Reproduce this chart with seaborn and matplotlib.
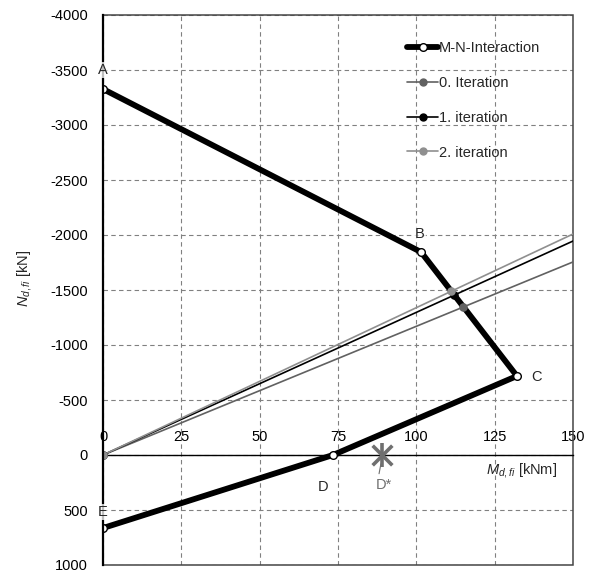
import matplotlib
matplotlib.use("Agg")
import matplotlib.pyplot as plt
from matplotlib.lines import Line2D
from matplotlib.patches import Rectangle
import seaborn as sns

# M-N interaction diagram vertices A..E  (M in kNm, N in kN, compression negative)
point_names = ["A", "B", "C", "D", "E"]
interaction_m = [0.0, 101.5, 132.1, 73.4, 0.0]
interaction_n = [-3327, -1845, -718, 0, 664]

# Iteration load paths: from the origin to the axis limit, with the
# intersection point on the interaction curve
iter_labels = ["0. Iteration", "1. iteration", "2. iteration"]
iter_end_m = [150.0, 150.0, 150.0]
iter_end_n = [-1755, -1945, -2009]
iter_cross_m = [115.0, 112.1, 111.2]
iter_cross_n = [-1346, -1454, -1489]
iter_colors = ["#616161", "#000000", "#8f8f8f"]

# Design point D*
dstar_m = 89.0
dstar_n = 0

x_ticks = [0, 25, 50, 75, 100, 125, 150]
y_ticks = [-4000, -3500, -3000, -2500, -2000, -1500, -1000, -500, 0, 500, 1000]

sns.set_style("white")
plt.rcParams["font.family"] = ["Liberation Sans", "DejaVu Sans"]
plt.rcParams["axes.unicode_minus"] = False
plt.rcParams["mathtext.fontset"] = "custom"
plt.rcParams["mathtext.rm"] = "Liberation Sans"
plt.rcParams["mathtext.it"] = "Liberation Sans:italic"

fig = plt.figure(figsize=(5.97, 5.76), dpi=100)
ax = fig.add_axes([103 / 597, 11 / 576, 470 / 597, 550 / 576])

ax.set_xlim(0, 150)
ax.set_ylim(1000, -4000)
ax.set_xticks(x_ticks)
ax.set_yticks(y_ticks)
ax.grid(True, color="#808080", linestyle=(0, (4, 3)), linewidth=0.8)
ax.set_axisbelow(True)

# interaction curve
sns.lineplot(x=interaction_m, y=interaction_n, sort=False, estimator=None,
             color="black", linewidth=4.2, marker="o", markersize=5.5,
             markerfacecolor="white", markeredgecolor="black",
             markeredgewidth=1.0, ax=ax, zorder=3)

# iteration lines and their markers
for lab, em, en, cm, cn, col in zip(iter_labels, iter_end_m, iter_end_n,
                                    iter_cross_m, iter_cross_n, iter_colors):
    sns.lineplot(x=[0.0, em], y=[0, en], sort=False, estimator=None,
                 color=col, linewidth=1.2, ax=ax, zorder=4)
    sns.scatterplot(x=[0.0, cm], y=[0, cn], color=col, s=38,
                    edgecolor=col, linewidth=0, ax=ax, zorder=5)

# design point D*
sns.scatterplot(x=[dstar_m], y=[dstar_n], marker="x", s=200, color="#6f6f6f",
                linewidth=2.6, ax=ax, zorder=5)
sns.scatterplot(x=[dstar_m], y=[dstar_n], marker="|", s=280, color="#6f6f6f",
                linewidth=2.6, ax=ax, zorder=5)
ax.plot([88.7, 88.1], [80, 170], color="#6f6f6f", linewidth=0.8, zorder=5)
ax.text(89.7, 273, "D*", color="#6f6f6f", fontsize=10.5, ha="center", va="center")

# vertex labels
label_pos = {"A": (0.0, -3500), "B": (101.2, -2010), "C": (138.5, -709),
             "D": (70.2, 291), "E": (0.0, 518)}
for name in point_names:
    px, py = label_pos[name]
    ax.text(px, py, name, fontsize=10.5, ha="center", va="center", zorder=7,
            bbox=dict(boxstyle="square,pad=0.05", facecolor="white",
                      edgecolor="none", alpha=0.75))

# x axis drawn along N = 0, labels above it
ax.xaxis.set_ticks_position("top")
ax.spines["top"].set_position(("data", 0))
ax.spines["top"].set_color("black")
ax.spines["top"].set_linewidth(1.0)
ax.spines["bottom"].set_visible(False)
ax.spines["right"].set_visible(False)
ax.spines["left"].set_color("black")
ax.spines["left"].set_linewidth(1.6)
ax.spines["left"].set_zorder(6)
ax.add_patch(Rectangle((0, 0), 1, 1, transform=ax.transAxes, fill=False,
                       edgecolor="#454545", linewidth=1.1, clip_on=False, zorder=2))

ax.tick_params(axis="x", length=0, pad=8, labelsize=10.5, labelcolor="black")
ax.tick_params(axis="y", length=0, pad=11, labelsize=10.5, labelcolor="black")

ax.set_xlabel(r"$M_{d,fi}$ [kNm]", fontsize=10.5)
ax.xaxis.set_label_coords(0.891, 0.1727)
ax.xaxis.label.set_va("center")
ax.set_ylabel(r"$N_{d,fi}$ [kN]", fontsize=10.5)
ax.yaxis.set_label_coords(-0.168, 0.522)
ax.yaxis.label.set_va("center")

# legend
handles = [Line2D([], [], color="black", linewidth=4.2, marker="o", markersize=5.5,
                  markerfacecolor="white", markeredgecolor="black", markeredgewidth=1.0)]
for col in iter_colors:
    handles.append(Line2D([], [], color=col, linewidth=1.2, marker="o", markersize=5))
ax.legend(handles, ["M-N-Interaction"] + iter_labels, loc="upper left",
          bbox_to_anchor=(0.647, 0.952), frameon=False, borderpad=0,
          borderaxespad=0, handlelength=2.15, handletextpad=0.05,
          labelspacing=1.42, fontsize=10.5)

fig.savefig("out.png", dpi=100)
